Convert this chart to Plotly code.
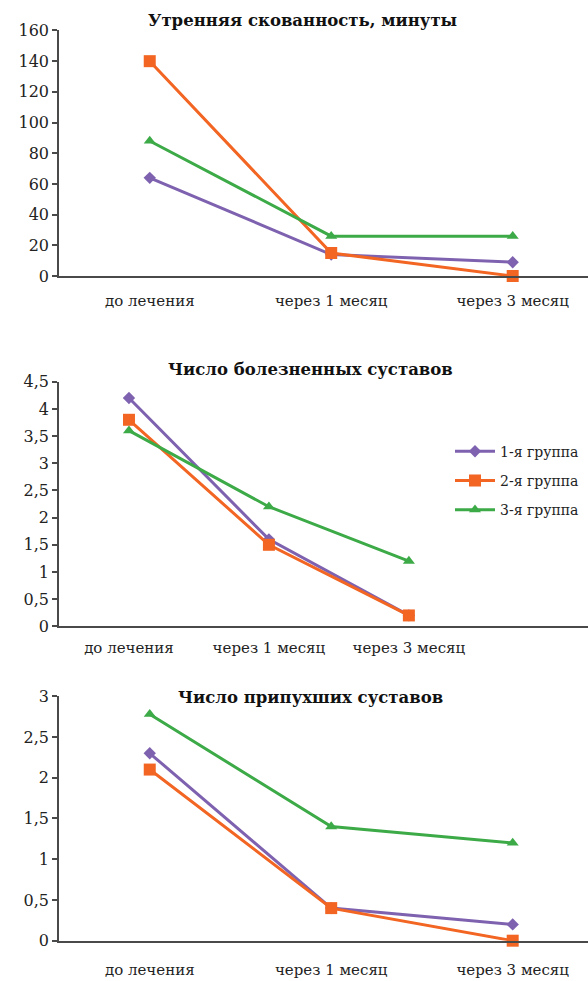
import plotly.graph_objects as go

categories = ["до лечения", "через 1 месяц", "через 3 месяц"]
series_names = ["1-я группа", "2-я группа", "3-я группа"]

# Chart 1: Утренняя скованность, минуты
stiff_g1 = [64, 14, 9]
stiff_g2 = [140, 15, 0]
stiff_g3 = [88, 26, 26]

# Chart 2: Число болезненных суставов
pain_g1 = [4.2, 1.6, 0.2]
pain_g2 = [3.8, 1.5, 0.2]
pain_g3 = [3.6, 2.2, 1.2]

# Chart 3: Число припухших суставов
swell_g1 = [2.3, 0.4, 0.2]
swell_g2 = [2.1, 0.4, 0.0]
swell_g3 = [2.78, 1.4, 1.2]

titles = ["Утренняя скованность, минуты", "Число болезненных суставов", "Число припухших суставов"]

ticks1 = [0, 20, 40, 60, 80, 100, 120, 140, 160]
ticks1_text = ["0", "20", "40", "60", "80", "100", "120", "140", "160"]
ticks2 = [0, 0.5, 1, 1.5, 2, 2.5, 3, 3.5, 4, 4.5]
ticks2_text = ["0", "0,5", "1", "1,5", "2", "2,5", "3", "3,5", "4", "4,5"]
ticks3 = [0, 0.5, 1, 1.5, 2, 2.5, 3]
ticks3_text = ["0", "0,5", "1", "1,5", "2", "2,5", "3"]

colors = ["#7E62B0", "#F26522", "#3DAA48"]
symbols = ["diamond", "square", "triangle-up"]
msizes = [9.5, 12, 10.5]

FONT = "DejaVu Serif"
W, H = 588, 981

fig = go.Figure()

charts = [
    ([stiff_g1, stiff_g2, stiff_g3], "x", "y", False),
    ([pain_g1, pain_g2, pain_g3], "x2", "y2", True),
    ([swell_g1, swell_g2, swell_g3], "x3", "y3", False),
]
for data, xa, ya, show in charts:
    for i, vals in enumerate(data):
        fig.add_trace(go.Scatter(
            x=categories, y=vals, xaxis=xa, yaxis=ya,
            name=series_names[i], mode="lines+markers",
            line=dict(color=colors[i], width=3),
            marker=dict(symbol=symbols[i], size=msizes[i], color=colors[i]),
            showlegend=show, legendgroup=str(i), cliponaxis=False,
        ))

def ydom(px0, px1):
    return [1 - px0 / H, 1 - px1 / H]

x0 = 59 / W
axis_col = "#4a4a4a"
tickfont = dict(family=FONT, size=16, color="#222")
catfont = dict(family=FONT, size=15, color="#222")

def xax(rng):
    return dict(type="category", range=rng, domain=[x0, 1], showline=True,
                linecolor=axis_col, linewidth=1.5, showgrid=False, zeroline=False,
                ticks="", tickfont=catfont, fixedrange=True)

def yax(rng, tv, tt, anchor):
    return dict(range=rng, tickvals=tv, ticktext=tt, showline=True, linecolor=axis_col,
                linewidth=1.5, showgrid=False, zeroline=False, ticks="outside",
                ticklen=5, tickcolor=axis_col, tickwidth=1.5, tickfont=tickfont,
                anchor=anchor, fixedrange=True)

title_font = dict(family=FONT, size=16.5, color="#111")

fig.update_layout(
    width=W, height=H,
    margin=dict(l=0, r=0, t=0, b=0),
    paper_bgcolor="white", plot_bgcolor="white",
    font=dict(family=FONT, color="#222"),
    xaxis=dict(xax([-0.5, 2.415]), anchor="y", ticklabelstandoff=10),
    yaxis=dict(yax([0, 160], ticks1, ticks1_text, "x"), domain=ydom(272.3, 21.9)),
    xaxis2=dict(xax([-0.5, 3.28]), anchor="y2", ticklabelstandoff=7),
    yaxis2=dict(yax([0, 4.5], ticks2, ticks2_text, "x2"), domain=ydom(629.5, 380.1)),
    xaxis3=dict(xax([-0.5, 2.415]), anchor="y3", ticklabelstandoff=15),
    yaxis3=dict(yax([0, 3], ticks3, ticks3_text, "x3"), domain=ydom(950.1, 700.8)),
    legend=dict(x=450 / W, y=1 - 481 / H, xanchor="left", yanchor="middle",
                font=dict(family=FONT, size=14, color="#222"),
                tracegroupgap=8, bgcolor="rgba(0,0,0,0)", itemwidth=40),
    annotations=[
        dict(text="<b>" + titles[0] + "</b>", x=302 / W, y=1 - 11.7 / H, xref="paper", yref="paper",
             showarrow=False, font=title_font, xanchor="center", yanchor="middle"),
        dict(text="<b>" + titles[1] + "</b>", x=310 / W, y=1 - 368 / H, xref="paper", yref="paper",
             showarrow=False, font=title_font, xanchor="center", yanchor="middle"),
        dict(text="<b>" + titles[2] + "</b>", x=310 / W, y=1 - 701.8 / H, xref="paper", yref="paper",
             showarrow=False, font=title_font, xanchor="center", yanchor="middle"),
    ],
)

fig.write_html("out.html", config={"displayModeBar": False})
